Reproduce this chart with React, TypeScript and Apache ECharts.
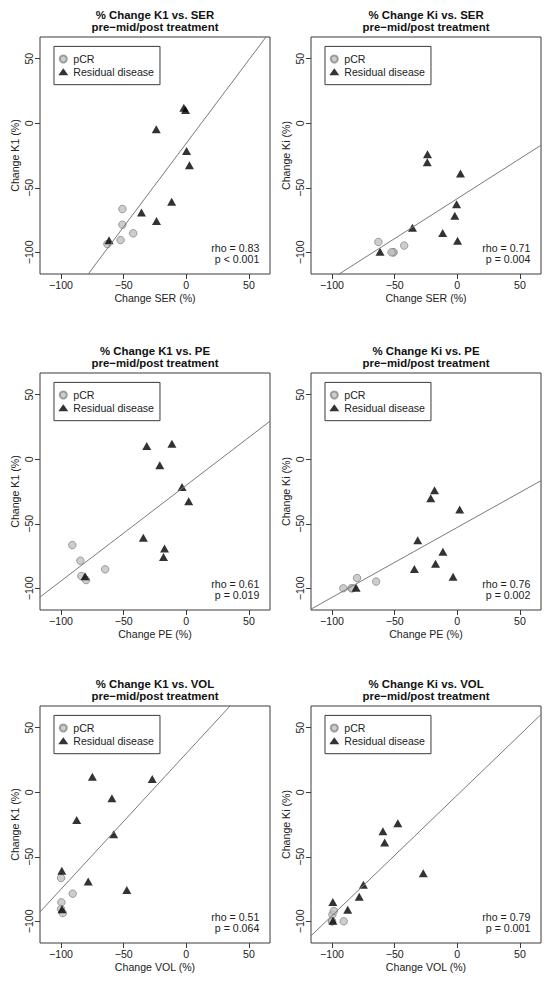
import React, { useEffect, useRef } from "react";
import * as echarts from "echarts";

// pCR patients
const pcrSER = [-51.0, -51.0, -42.4, -52.5, -63.0];
const pcrPE = [-91.0, -84.6, -64.8, -83.8, -80.0];
const pcrVOL = [-100.0, -90.7, -99.7, -100.0, -98.6];
const pcrK1 = [-66.5, -78.6, -85.3, -90.5, -93.6];
const pcrKi = [-100.0, -100.0, -94.8, -100.0, -92.0];

// Residual disease patients
const resSER = [-61.7, -35.8, -23.8, -11.7, -24.0, -2.0, -0.6, 0.2, 2.5];
const resPE = [-80.8, -17.4, -18.2, -34.3, -21.2, -11.5, -31.6, -3.4, 1.9];
const resVOL = [-99.3, -78.3, -47.5, -99.4, -59.4, -75.0, -27.2, -87.5, -58.0];
const resK1 = [-90.7, -69.1, -75.8, -60.8, -4.7, 11.9, 10.3, -21.6, -32.6];
const resKi = [-99.5, -80.9, -24.0, -85.1, -30.3, -71.7, -62.7, -91.0, -39.0];

// Panels
const xVarNames = ["SER", "SER", "PE", "PE", "VOL", "VOL"];
const yVarNames = ["K1", "Ki", "K1", "Ki", "K1", "Ki"];
const rhoLabels = ["rho = 0.83", "rho = 0.71", "rho = 0.61", "rho = 0.76", "rho = 0.51", "rho = 0.79"];
const pLabels = ["p < 0.001", "p = 0.004", "p = 0.019", "p = 0.002", "p = 0.064", "p = 0.001"];
const fitSlopes = [1.294, 0.619, 0.742, 0.542, 1.052, 0.934];
const fitIntercepts = [-15.5, -58.4, -20.1, -52.8, 30.1, -2.2];
const tickValues = [-100, -50, 0, 50];
const axisMin = -116.8;
const axisMax = 66.8;
const legendNames = ["pCR", "Residual disease"];

const FONT = "'Liberation Sans', Arial, Helvetica, sans-serif";

export default function App() {
  const ref = useRef<HTMLDivElement>(null);

  useEffect(() => {
    if (!ref.current) return;
    const chart = echarts.init(ref.current, undefined, { renderer: "svg" });

    const xData: Record<string, [number[], number[]]> = {
      SER: [pcrSER, resSER],
      PE: [pcrPE, resPE],
      VOL: [pcrVOL, resVOL],
    };
    const yData: Record<string, [number[], number[]]> = {
      K1: [pcrK1, resK1],
      Ki: [pcrKi, resKi],
    };

    const gridLefts = [40, 311];
    const gridTops = [37, 373, 706];
    const W = 230;
    const H = 237;

    const grids: any[] = [];
    const xAxes: any[] = [];
    const yAxes: any[] = [];
    const series: any[] = [];
    const titles: any[] = [];
    const legends: any[] = [];
    const graphics: any[] = [];

    const fmt = (v: number) => String(v).replace("-", "\u2212");

    for (let i = 0; i < 6; i++) {
      const gx = gridLefts[i % 2];
      const gy = gridTops[Math.floor(i / 2)];
      grids.push({
        left: gx,
        top: gy,
        width: W,
        height: H,
        show: true,
        borderColor: "#3a3a3a",
        borderWidth: 1,
        backgroundColor: "transparent",
      });
      const common = {
        gridIndex: i,
        type: "value",
        min: axisMin,
        max: axisMax,
        splitLine: { show: false },
        axisLine: { show: false, onZero: false },
        axisTick: {
          show: true,
          inside: false,
          length: 5,
          customValues: tickValues,
          lineStyle: { color: "#3a3a3a", width: 1 },
        },
        nameLocation: "middle",
        nameTextStyle: { fontSize: 10.6, color: "#222", fontFamily: FONT },
      };
      xAxes.push({
        ...common,
        position: "bottom",
        name: `Change ${xVarNames[i]} (%)`,
        nameGap: 18,
        axisLabel: {
          customValues: tickValues,
          formatter: fmt,
          fontSize: 10.6,
          color: "#222",
          fontFamily: FONT,
          margin: 5,
        },
      });
      yAxes.push({
        ...common,
        position: "left",
        name: `Change ${yVarNames[i]} (%)`,
        nameGap: 20,
        axisLabel: {
          customValues: tickValues,
          formatter: fmt,
          rotate: 90,
          fontSize: 10.6,
          color: "#222",
          fontFamily: FONT,
          margin: 6,
        },
      });

      const [pcrX, resX] = xData[xVarNames[i]];
      const [pcrY, resY] = yData[yVarNames[i]];
      series.push({
        type: "scatter",
        name: legendNames[0],
        xAxisIndex: i,
        yAxisIndex: i,
        symbol: "circle",
        symbolSize: 7.5,
        itemStyle: { color: "#c0c0c0", borderColor: "#8a8a8a", borderWidth: 1 },
        data: pcrX.map((x, k) => [x, pcrY[k]]),
        silent: true,
      });
      series.push({
        type: "scatter",
        name: legendNames[1],
        xAxisIndex: i,
        yAxisIndex: i,
        symbol: "triangle",
        symbolSize: [9, 8],
        itemStyle: { color: "#000" },
        data: resX.map((x, k) => [x, resY[k]]),
        silent: true,
      });
      series.push({
        type: "line",
        name: "fit",
        xAxisIndex: i,
        yAxisIndex: i,
        showSymbol: false,
        symbol: "none",
        clip: true,
        silent: true,
        lineStyle: { color: "#7a7a7a", width: 1 },
        data: [axisMin, axisMax].map((x) => [x, fitIntercepts[i] + fitSlopes[i] * x]),
      });

      titles.push({
        text: `% Change ${yVarNames[i]} vs. ${xVarNames[i]}\npre\u2212mid/post treatment`,
        left: gx + W / 2,
        top: gy - 28,
        textAlign: "center",
        padding: 0,
        textStyle: {
          fontSize: 11.4,
          fontWeight: "bold",
          color: "#111",
          fontFamily: FONT,
          lineHeight: 12,
        },
      });

      legends.push({
        orient: "vertical",
        left: gx + 14,
        top: gy + 9.4,
        padding: [6.6, 6, 7, 4.3],
        itemGap: 0.7,
        itemWidth: 10,
        itemHeight: 7,
        selectedMode: false,
        borderColor: "#3a3a3a",
        borderWidth: 1,
        textStyle: { fontSize: 10.6, color: "#222", fontFamily: FONT, lineHeight: 12 },
        data: [
          { name: legendNames[0], icon: "circle" },
          { name: legendNames[1], icon: "triangle" },
        ],
      });

      graphics.push({
        type: "text",
        x: gx + W - 10.7,
        y: gy + H - 26.3,
        style: {
          text: rhoLabels[i],
          align: "right",
          verticalAlign: "middle",
          fontSize: 10.6,
          fill: "#222",
          fontFamily: FONT,
        },
        silent: true,
      });
      graphics.push({
        type: "text",
        x: gx + W - 10.7,
        y: gy + H - 15,
        style: {
          text: pLabels[i],
          align: "right",
          verticalAlign: "middle",
          fontSize: 10.6,
          fill: "#222",
          fontFamily: FONT,
        },
        silent: true,
      });
    }

    chart.setOption({
      animation: false,
      backgroundColor: "#fff",
      title: titles,
      legend: legends,
      grid: grids,
      xAxis: xAxes,
      yAxis: yAxes,
      series,
      graphic: graphics,
    });

    return () => chart.dispose();
  }, []);

  return (
    <div
      ref={ref}
      style={{ position: "absolute", left: 0, top: 0, width: 550, height: 982 }}
    />
  );
}
